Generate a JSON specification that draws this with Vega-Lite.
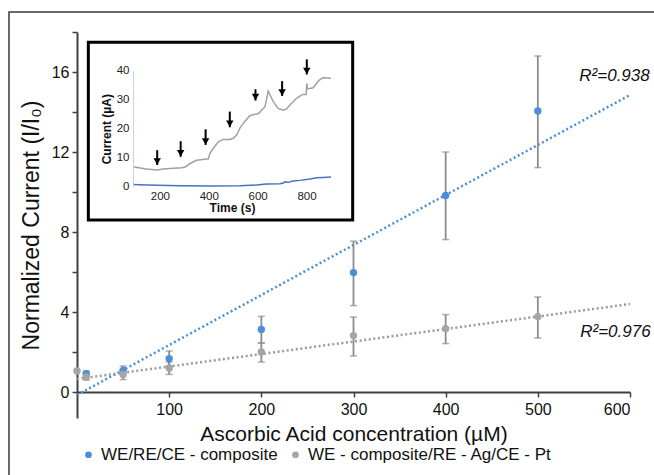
{
  "$schema": "https://vega.github.io/schema/vega-lite/v6.json",
  "autosize": {"type": "none"},
  "padding": {"left": 77, "top": 32, "right": 24, "bottom": 57},
  "width": 553,
  "height": 386,
  "background": "white",
  "config": {
    "font": "Liberation Sans",
    "view": {"stroke": null},
    "axis": {"grid": false, "labelFont": "Liberation Sans", "titleFont": "Liberation Sans", "labelColor": "#111111", "titleColor": "#111111", "titleFontWeight": "normal"}
  },
  "datasets": {
    "pts": [
      {"conc": 10, "val": 0.92, "lo": 0.8, "hi": 1.05, "series": "WE/RE/CE - composite"},
      {"conc": 50, "val": 1.08, "lo": 0.9, "hi": 1.3, "series": "WE/RE/CE - composite"},
      {"conc": 100, "val": 1.67, "lo": 1.3, "hi": 2.05, "series": "WE/RE/CE - composite"},
      {"conc": 200, "val": 3.13, "lo": 2.45, "hi": 3.78, "series": "WE/RE/CE - composite"},
      {"conc": 300, "val": 5.97, "lo": 4.32, "hi": 7.54, "series": "WE/RE/CE - composite"},
      {"conc": 400, "val": 9.83, "lo": 7.62, "hi": 12.0, "series": "WE/RE/CE - composite"},
      {"conc": 500, "val": 14.05, "lo": 11.22, "hi": 16.8, "series": "WE/RE/CE - composite"},
      {"conc": 0, "val": 1.05, "series": "WE - composite/RE - Ag/CE - Pt"},
      {"conc": 10, "val": 0.75, "lo": 0.6, "hi": 0.9, "series": "WE - composite/RE - Ag/CE - Pt"},
      {"conc": 50, "val": 0.88, "lo": 0.62, "hi": 1.1, "series": "WE - composite/RE - Ag/CE - Pt"},
      {"conc": 100, "val": 1.2, "lo": 0.88, "hi": 1.5, "series": "WE - composite/RE - Ag/CE - Pt"},
      {"conc": 200, "val": 2.0, "lo": 1.5, "hi": 2.45, "series": "WE - composite/RE - Ag/CE - Pt"},
      {"conc": 300, "val": 2.82, "lo": 1.8, "hi": 3.75, "series": "WE - composite/RE - Ag/CE - Pt"},
      {"conc": 400, "val": 3.17, "lo": 2.42, "hi": 3.87, "series": "WE - composite/RE - Ag/CE - Pt"},
      {"conc": 500, "val": 3.77, "lo": 2.7, "hi": 4.75, "series": "WE - composite/RE - Ag/CE - Pt"}
    ],
    "fitBlue": [{"conc": 0, "val": -0.15}, {"conc": 600, "val": 14.85}],
    "fitGrey": [{"conc": 0, "val": 0.65}, {"conc": 600, "val": 4.4}],
    "r2": [
      {"conc": 545, "val": 15.8, "label": "R²=0.938"},
      {"conc": 546, "val": 3.0, "label": "R²=0.976"}
    ],
    "grayTrace": [
      {"t": 90, "c": 6.9}, {"t": 145, "c": 6.1}, {"t": 189, "c": 5.75}, {"t": 214, "c": 6.1},
      {"t": 241, "c": 6.3}, {"t": 289, "c": 6.55}, {"t": 306, "c": 6.9}, {"t": 323, "c": 8.0},
      {"t": 350, "c": 9.1}, {"t": 384, "c": 9.5}, {"t": 398, "c": 9.6}, {"t": 405, "c": 11.5},
      {"t": 418, "c": 13.2}, {"t": 439, "c": 15.5}, {"t": 459, "c": 16.3}, {"t": 486, "c": 16.3},
      {"t": 500, "c": 16.7}, {"t": 514, "c": 17.8}, {"t": 527, "c": 20.1}, {"t": 548, "c": 22.6},
      {"t": 568, "c": 24.5}, {"t": 595, "c": 25.1}, {"t": 605, "c": 25.3}, {"t": 616, "c": 26.4},
      {"t": 630, "c": 27.6}, {"t": 643, "c": 33.0}, {"t": 664, "c": 29.3}, {"t": 684, "c": 27.0},
      {"t": 705, "c": 26.4}, {"t": 718, "c": 26.8}, {"t": 732, "c": 28.2}, {"t": 759, "c": 30.5},
      {"t": 784, "c": 31.8}, {"t": 798, "c": 31.8}, {"t": 801, "c": 35.6}, {"t": 804, "c": 33.7},
      {"t": 827, "c": 34.1}, {"t": 852, "c": 36.8}, {"t": 868, "c": 37.6}, {"t": 900, "c": 37.4}
    ],
    "blueTrace": [
      {"t": 90, "c": 0.8}, {"t": 145, "c": 0.6}, {"t": 282, "c": 0.35}, {"t": 418, "c": 0.23},
      {"t": 527, "c": 0.35}, {"t": 595, "c": 0.57}, {"t": 636, "c": 0.92}, {"t": 691, "c": 1.03},
      {"t": 705, "c": 1.26}, {"t": 711, "c": 1.72}, {"t": 725, "c": 1.5}, {"t": 745, "c": 1.95},
      {"t": 773, "c": 2.18}, {"t": 814, "c": 2.64}, {"t": 841, "c": 3.1}, {"t": 868, "c": 3.2},
      {"t": 900, "c": 3.33}
    ],
    "arrows": [
      {"t": 189, "top": 12.6, "tip": 7.5},
      {"t": 285, "top": 15.7, "tip": 10.3},
      {"t": 387, "top": 19.8, "tip": 14.4},
      {"t": 486, "top": 25.9, "tip": 20.5},
      {"t": 591, "top": 33.6, "tip": 29.7},
      {"t": 700, "top": 36.4, "tip": 31.3},
      {"t": 801, "top": 43.9, "tip": 38.7}
    ]
  },
  "layer": [
    {
      "layer": [
        {
          "data": {"values": [{}]},
          "mark": {"type": "rect", "filled": false, "fill": null, "stroke": "#3a3a3a", "strokeWidth": 1.5},
          "encoding": {
            "x": {"datum": -73.8, "type": "quantitative", "scale": {"domain": [0, 600], "nice": false, "zero": false}},
            "x2": {"datum": 700},
            "y": {"datum": 19.0, "type": "quantitative", "scale": {"domain": [-1.3, 18], "nice": false, "zero": false}},
            "y2": {"datum": -6}
          }
        },
        {
          "data": {"name": "fitBlue"},
          "mark": {"type": "line", "color": "#4a90d9", "strokeWidth": 2.5, "strokeDash": [2, 2.6]},
          "encoding": {
            "x": {"field": "conc", "type": "quantitative"},
            "y": {"field": "val", "type": "quantitative"}
          }
        },
        {
          "data": {"name": "fitGrey"},
          "mark": {"type": "line", "color": "#9a9a9a", "strokeWidth": 2.5, "strokeDash": [2, 2.6]},
          "encoding": {
            "x": {"field": "conc", "type": "quantitative"},
            "y": {"field": "val", "type": "quantitative"}
          }
        },
        {
          "data": {"name": "pts"},
          "mark": {"type": "rule", "color": "#8c8c8c", "strokeWidth": 1.8},
          "encoding": {
            "x": {"field": "conc", "type": "quantitative"},
            "y": {"field": "lo", "type": "quantitative"},
            "y2": {"field": "hi"}
          }
        },
        {
          "data": {"name": "pts"},
          "mark": {"type": "tick", "orient": "horizontal", "color": "#8c8c8c", "size": 7, "thickness": 1.5},
          "encoding": {
            "x": {"field": "conc", "type": "quantitative"},
            "y": {"field": "lo", "type": "quantitative"}
          }
        },
        {
          "data": {"name": "pts"},
          "mark": {"type": "tick", "orient": "horizontal", "color": "#8c8c8c", "size": 7, "thickness": 1.5},
          "encoding": {
            "x": {"field": "conc", "type": "quantitative"},
            "y": {"field": "hi", "type": "quantitative"}
          }
        },
        {
          "data": {"name": "pts"},
          "mark": {"type": "point", "filled": true, "size": 55, "opacity": 1},
          "encoding": {
            "x": {
              "field": "conc", "type": "quantitative",
              "axis": {
                "orient": "bottom", "offset": -26, "values": [100, 200, 300, 400, 500, 600],
                "domainColor": "#404040", "domainWidth": 2, "tickColor": "#404040", "tickWidth": 1.5, "tickSize": 5,
                "labelFontSize": 16, "labelPadding": 4,
                "title": "Ascorbic Acid concentration (µM)", "titleFontSize": 21, "titlePadding": 6
              }
            },
            "y": {
              "field": "val", "type": "quantitative",
              "axis": {
                "values": [0, 2, 4, 6, 8, 10, 12, 14, 16, 18],
                "labelExpr": "datum.value % 4 === 0 ? datum.label : ''",
                "domainColor": "#404040", "domainWidth": 2, "tickColor": "#404040", "tickWidth": 1.5, "tickSize": 5,
                "labelFontSize": 16, "labelPadding": 3,
                "title": "Normalized Current (I/I₀)", "titleFontSize": 23, "titlePadding": 8
              }
            },
            "color": {
              "field": "series", "type": "nominal",
              "scale": {"domain": ["WE/RE/CE - composite", "WE - composite/RE - Ag/CE - Pt"], "range": ["#4a90d9", "#a5a5a5"]},
              "legend": {
                "orient": "none", "legendX": 3, "legendY": 414, "direction": "horizontal", "title": null,
                "symbolType": "circle", "symbolSize": 45, "labelFontSize": 17, "labelFont": "Liberation Sans",
                "labelColor": "#111111", "columnPadding": 9, "labelLimit": 0
              }
            }
          }
        },
        {
          "data": {"name": "r2"},
          "mark": {"type": "text", "align": "left", "baseline": "middle", "fontSize": 17, "fontStyle": "italic", "font": "Liberation Sans", "color": "#111111"},
          "encoding": {
            "x": {"field": "conc", "type": "quantitative"},
            "y": {"field": "val", "type": "quantitative"},
            "text": {"field": "label"}
          }
        },
        {
          "data": {"values": [{}]},
          "mark": {"type": "rect", "filled": false, "fill": null, "stroke": "#000000", "strokeWidth": 3},
          "encoding": {
            "x": {"datum": 12.3, "type": "quantitative"},
            "x2": {"datum": 299.1},
            "y": {"datum": 17.485, "type": "quantitative"},
            "y2": {"datum": 8.6}
          }
        }
      ]
    },
    {
      "layer": [
        {
          "data": {"name": "grayTrace"},
          "mark": {"type": "line", "color": "#a0a0a0", "strokeWidth": 1.5},
          "encoding": {
            "x": {
              "field": "t", "type": "quantitative",
              "scale": {"domain": [90, 900], "range": [56, 254], "nice": false, "zero": false},
              "axis": {
                "orient": "bottom", "offset": -231.3, "values": [200, 400, 600, 800], "domain": false, "ticks": false,
                "labelFontSize": 11.5, "labelPadding": 4, "labelColor": "#222222", "zindex": 1,
                "title": "Time (s)", "titleFontSize": 12, "titleFontWeight": "bold", "titlePadding": 0
              }
            },
            "y": {
              "field": "c", "type": "quantitative",
              "scale": {"domain": [0, 40], "range": [154.7, 38.7], "nice": false, "zero": false},
              "axis": {
                "orient": "left", "offset": -56, "values": [0, 10, 20, 30, 40], "domainColor": "#d0d0d0", "domainWidth": 1, "ticks": false,
                "labelFontSize": 11.5, "labelPadding": 4, "labelColor": "#222222", "zindex": 1,
                "title": "Current (µA)", "titleFontSize": 12, "titleFontWeight": "bold", "titlePadding": 3
              }
            }
          }
        },
        {
          "data": {"name": "blueTrace"},
          "mark": {"type": "line", "color": "#4472c4", "strokeWidth": 1.5},
          "encoding": {
            "x": {"field": "t", "type": "quantitative"},
            "y": {"field": "c", "type": "quantitative"}
          }
        },
        {
          "data": {"name": "arrows"},
          "mark": {"type": "rule", "color": "#000000", "strokeWidth": 2},
          "encoding": {
            "x": {"field": "t", "type": "quantitative"},
            "y": {"field": "top", "type": "quantitative"},
            "y2": {"field": "tip"}
          }
        },
        {
          "data": {"name": "arrows"},
          "mark": {"type": "point", "shape": "triangle-down", "filled": true, "color": "#000000", "size": 55, "opacity": 1, "yOffset": -3.5},
          "encoding": {
            "x": {"field": "t", "type": "quantitative"},
            "y": {"field": "tip", "type": "quantitative"}
          }
        }
      ]
    }
  ],
  "resolve": {
    "scale": {"x": "independent", "y": "independent", "color": "independent"},
    "axis": {"x": "independent", "y": "independent"}
  }
}
